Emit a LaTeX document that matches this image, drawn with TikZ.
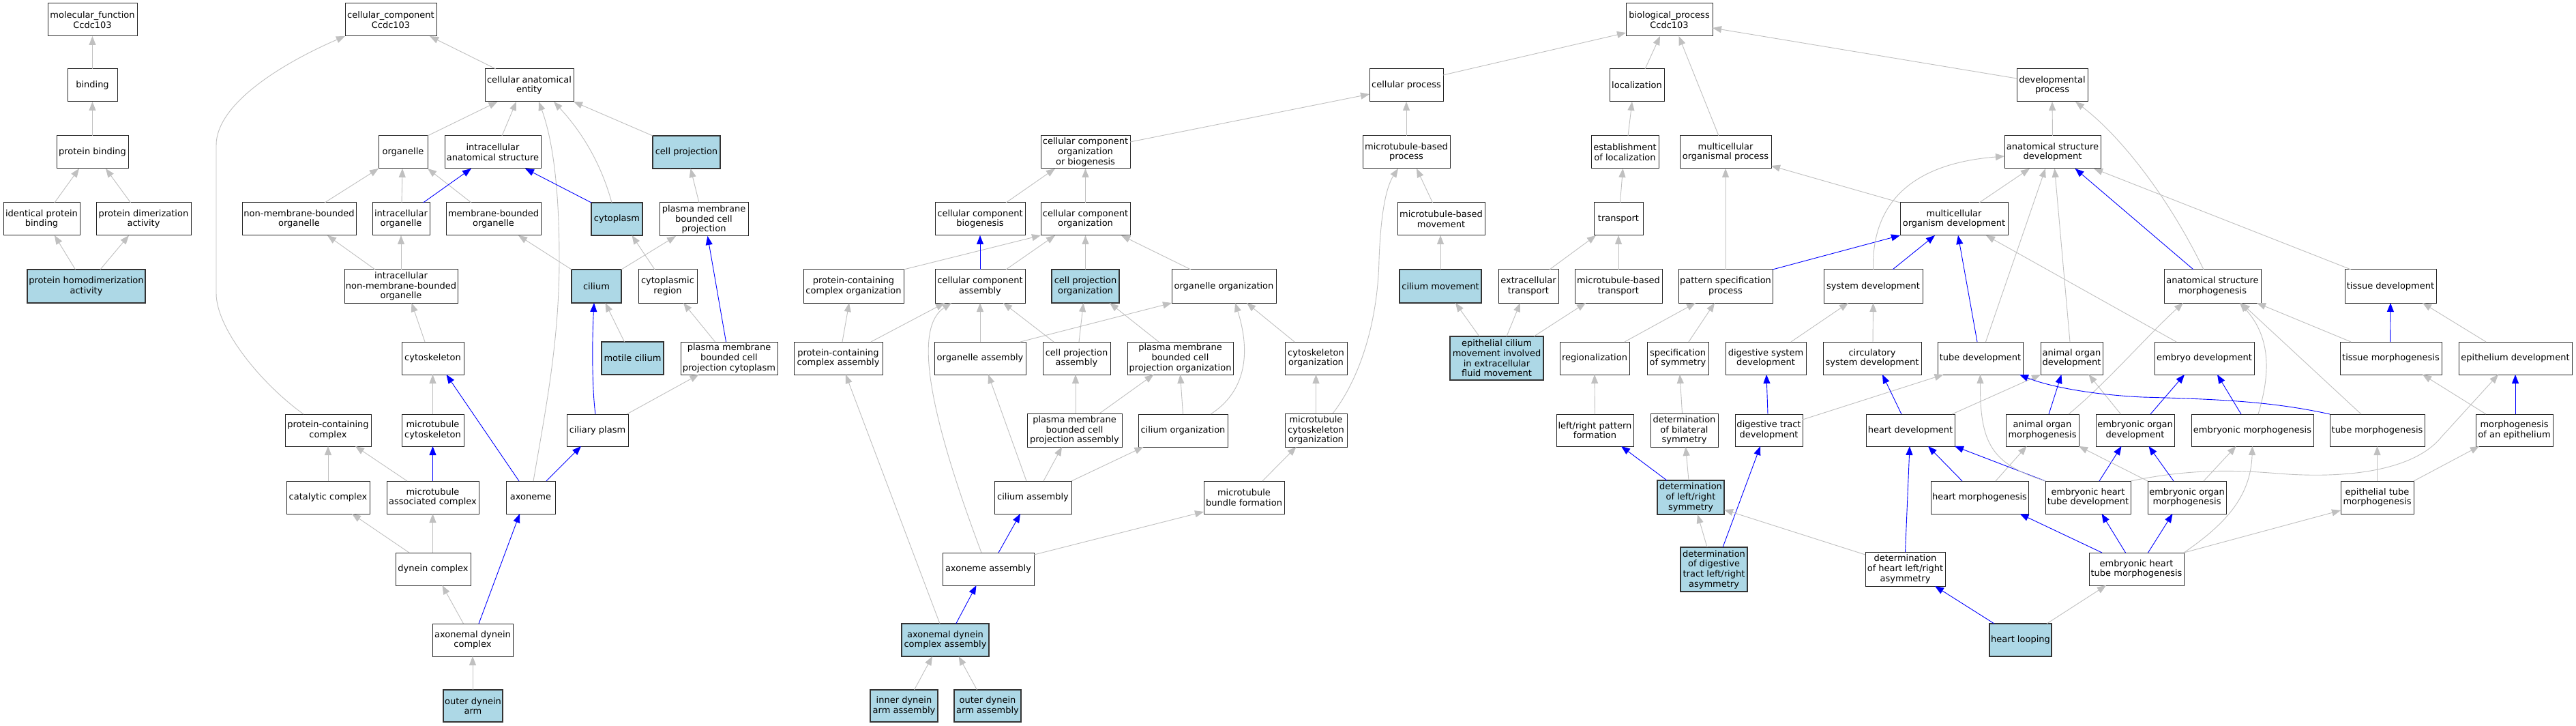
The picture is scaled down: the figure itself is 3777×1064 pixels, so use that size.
\documentclass[tikz,border=0pt]{standalone}
\usepackage{fontspec}
\setmainfont{DejaVu Sans}
\usetikzlibrary{arrows.meta}
\definecolor{egray}{HTML}{C0C0C0}
\definecolor{lblue}{HTML}{ADD8E6}
\definecolor{eblue}{HTML}{0000FF}
\tikzset{
 gobox/.style={draw=black!85, line width=1.0pt, fill=white, rectangle, inner sep=0pt, outer sep=0pt, align=center, font=\fontsize{13}{14.7}\selectfont},
 hl/.style={fill=lblue, line width=1.4pt, draw=black!80},
 isa/.style={draw=egray, line width=0.9pt, -{Triangle[length=13pt,width=10pt]}},
 po/.style={draw=eblue, line width=0.9pt, -{Triangle[length=13pt,width=10pt]}},
}
\newcommand\gon[7][]{%
 \pgfmathsetmacro\gw{#4-#3}\pgfmathsetmacro\gh{#6-#5}%
 \pgfmathsetmacro\gx{(#3+#4)/2}\pgfmathsetmacro\gy{(#5+#6)/2}%
 \node[gobox,#1,minimum width=\gw pt,minimum height=\gh pt] (#2) at (\gx,\gy) {#7};}
\newcommand\ed[5]{\draw[#1] ([xshift=#3pt]#2.north) -- ([xshift=#5pt]#4.south);}
\begin{document}
\begin{tikzpicture}[x=1pt,y=-1pt]
\useasboundingbox[fill=white] (0,0) rectangle (3777,1064);
% ---------- molecular function
\gon{mf}{70}{201}{5}{53}{molecular\_function\\Ccdc103}
\gon{binding}{99}{172}{101}{149}{binding}
\gon{pbind}{83}{188}{199}{247}{protein binding}
\gon{ipb}{5}{117}{297}{345}{identical protein\\binding}
\gon{pda}{141}{280}{297}{345}{protein dimerization\\activity}
\gon[hl]{phda}{40}{213}{395}{444}{protein homodimerization\\activity}
% ---------- cellular component
\gon{cc}{506}{640}{5}{53}{cellular\_component\\Ccdc103}
\gon{cae}{711}{841}{101}{149}{cellular anatomical\\entity}
\gon{organelle}{555}{627}{199}{247}{organelle}
\gon{ias}{652}{793}{199}{247}{intracellular\\anatomical structure}
\gon[hl]{cellproj}{957}{1056}{199}{247}{cell projection}
\gon{nmbo}{355}{522}{297}{345}{non-membrane-bounded\\organelle}
\gon{io}{546}{630}{297}{345}{intracellular\\organelle}
\gon{mbo}{654}{793}{297}{345}{membrane-bounded\\organelle}
\gon[hl]{cytoplasm}{867}{942}{297}{345}{cytoplasm}
\gon{pmbcp}{967}{1097}{297}{346}{plasma membrane\\bounded cell\\projection}
\gon{inmbo}{505}{671}{395}{444}{intracellular\\non-membrane-bounded\\organelle}
\gon[hl]{cilium}{838}{911}{395}{444}{cilium}
\gon{cytreg}{936}{1022}{395}{444}{cytoplasmic\\region}
\gon{cytoskeleton}{589}{680}{501}{549}{cytoskeleton}
\gon[hl]{motile}{882}{973}{501}{549}{motile cilium}
\gon{pmbcpc}{998}{1140}{501}{549}{plasma membrane\\bounded cell\\projection cytoplasm}
\gon{pcc}{418}{544}{607}{654}{protein-containing\\complex}
\gon{mtcyto}{589}{680}{607}{654}{microtubule\\cytoskeleton}
\gon{ciliaryplasm}{831}{921}{607}{654}{ciliary plasm}
\gon{catalytic}{420}{542}{705}{753}{catalytic complex}
\gon{mac}{567}{702}{705}{753}{microtubule\\associated complex}
\gon{axoneme}{742}{814}{705}{753}{axoneme}
\gon{dynein}{580}{690}{810}{858}{dynein complex}
\gon{adc}{634}{752}{914}{962}{axonemal dynein\\complex}
\gon[hl]{oda}{650}{737}{1011}{1058}{outer dynein\\arm}
% ---------- biological process, left part
\gon{pcco}{1178}{1325}{395}{444}{protein-containing\\complex organization}
\gon{ccb}{1371}{1503}{297}{345}{cellular component\\biogenesis}
\gon{cca}{1371}{1503}{395}{444}{cellular component\\assembly}
\gon{pcca}{1164}{1294}{501}{549}{protein-containing\\complex assembly}
\gon{oa}{1370}{1504}{501}{549}{organelle assembly}
\gon{ccoob}{1526}{1657}{199}{247}{cellular component\\organization\\or biogenesis}
\gon{cco}{1526}{1657}{297}{345}{cellular component\\organization}
\gon[hl]{cpo}{1542}{1641}{395}{444}{cell projection\\organization}
\gon{oo}{1718}{1871}{395}{444}{organelle organization}
\gon{cpa}{1529}{1628}{501}{549}{cell projection\\assembly}
\gon{pmbcpo}{1653}{1808}{501}{549}{plasma membrane\\bounded cell\\projection organization}
\gon{cytoorg}{1884}{1975}{501}{549}{cytoskeleton\\organization}
\gon{pmbcpa}{1506}{1645}{606}{655}{plasma membrane\\bounded cell\\projection assembly}
\gon{ciliumorg}{1669}{1800}{607}{655}{cilium organization}
\gon{mtco}{1884}{1975}{606}{655}{microtubule\\cytoskeleton\\organization}
\gon{ciliumasm}{1458}{1571}{705}{753}{cilium assembly}
\gon{mtbf}{1765}{1883}{705}{753}{microtubule\\bundle formation}
\gon{axasm}{1382}{1516}{810}{858}{axoneme assembly}
\gon[hl]{adca}{1322}{1450}{914}{962}{axonemal dynein\\complex assembly}
\gon[hl]{idaa}{1276}{1375}{1011}{1058}{inner dynein\\arm assembly}
\gon[hl]{odaa}{1399}{1497}{1011}{1058}{outer dynein\\arm assembly}
% ---------- biological process, middle/right
\gon{cellproc}{2008}{2116}{101}{149}{cellular process}
\gon{mbp}{1998}{2126}{199}{247}{microtubule-based\\process}
\gon{mbm}{2049}{2177}{297}{345}{microtubule-based\\movement}
\gon[hl]{ciliummov}{2052}{2172}{395}{444}{cilium movement}
\gon{exttr}{2197}{2285}{395}{444}{extracellular\\transport}
\gon[hl]{ecm}{2126}{2263}{493}{557}{epithelial cilium\\movement involved\\in extracellular\\fluid movement}
\gon{bp}{2384}{2511}{5}{53}{biological\_process\\Ccdc103}
\gon{loc}{2360}{2440}{101}{149}{localization}
\gon{devproc}{2957}{3061}{101}{149}{developmental\\process}
\gon{eol}{2333}{2432}{199}{247}{establishment\\of localization}
\gon{mop}{2463}{2597}{199}{247}{multicellular\\organismal process}
\gon{asd}{2939}{3080}{199}{247}{anatomical structure\\development}
\gon{transport}{2337}{2409}{297}{345}{transport}
\gon{mod}{2786}{2944}{297}{345}{multicellular\\organism development}
\gon{mbt}{2309}{2437}{395}{444}{microtubule-based\\transport}
\gon{psp}{2461}{2599}{395}{444}{pattern specification\\process}
\gon{sysdev}{2674}{2819}{395}{444}{system development}
\gon{asm}{3173}{3315}{395}{444}{anatomical structure\\morphogenesis}
\gon{tissuedev}{3438}{3572}{395}{444}{tissue development}
\gon{region}{2287}{2389}{501}{549}{regionalization}
\gon{sos}{2415}{2505}{501}{549}{specification\\of symmetry}
\gon{dsd}{2530}{2648}{501}{549}{digestive system\\development}
\gon{csd}{2673}{2817}{501}{549}{circulatory\\system development}
\gon{tubedev}{2841}{2966}{501}{549}{tube development}
\gon{aod}{2992}{3083}{501}{549}{animal organ\\development}
\gon{embdev}{3159}{3305}{501}{549}{embryo development}
\gon{tissuemorph}{3431}{3580}{501}{549}{tissue morphogenesis}
\gon{epidev}{3605}{3771}{501}{549}{epithelium development}
\gon{lrpf}{2282}{2395}{607}{654}{left/right pattern\\formation}
\gon{dbs}{2420}{2519}{606}{655}{determination\\of bilateral\\symmetry}
\gon{dtd}{2544}{2643}{607}{654}{digestive tract\\development}
\gon{heartdev}{2736}{2866}{607}{654}{heart development}
\gon{aom}{2941}{3048}{607}{654}{animal organ\\morphogenesis}
\gon{eod}{3073}{3188}{607}{654}{embryonic organ\\development}
\gon{embmorph}{3213}{3392}{607}{654}{embryonic morphogenesis}
\gon{tubemorph}{3416}{3555}{607}{654}{tube morphogenesis}
\gon{moe}{3630}{3743}{607}{654}{morphogenesis\\of an epithelium}
\gon[hl]{dlrs}{2430}{2528}{704}{754}{determination\\of left/right\\symmetry}
\gon{heartmorph}{2831}{2974}{705}{753}{heart morphogenesis}
\gon{ehtd}{2999}{3124}{705}{753}{embryonic heart\\tube development}
\gon{eom}{3149}{3264}{705}{753}{embryonic organ\\morphogenesis}
\gon{etm}{3432}{3539}{705}{753}{epithelial tube\\morphogenesis}
\gon[hl]{ddtlra}{2464}{2562}{802}{867}{determination\\of digestive\\tract left/right\\asymmetry}
\gon{dhlra}{2735}{2852}{809}{859}{determination\\of heart left/right\\asymmetry}
\gon{ehtm}{3063}{3202}{810}{858}{embryonic heart\\tube morphogenesis}
\gon[hl]{heartloop}{2917}{3008}{914}{962}{heart looping}
% ================= edges
% MF
\ed{isa}{binding}{0}{mf}{0}
\ed{isa}{pbind}{0}{binding}{0}
\ed{isa}{ipb}{19}{pbind}{-19.5}
\ed{isa}{pda}{-19}{pbind}{19.5}
\ed{isa}{phda}{-16}{ipb}{19}
\ed{isa}{phda}{20.5}{pda}{-21.5}
% CC
\ed{isa}{cae}{-49}{cc}{57}
\draw[isa] (organelle.north east) -- ([xshift=-46.5pt]cae.south);
\ed{isa}{ias}{13.5}{cae}{-19}
\draw[isa] ([xshift=-7.5pt]cytoplasm.north) .. controls (880,235) and (850,190) .. ([xshift=36pt]cae.south);
\draw[isa] ([xshift=4pt]axoneme.north) .. controls (800,600) and (820,500) .. (820,380) .. controls (820,250) and (805,190) .. ([xshift=14pt]cae.south);
\draw[isa] (cellproj.north west) -- (cae.south east);
\draw[isa] ([xshift=-36pt]pcc.north) .. controls (380,560) and (317,480) .. (317,430) -- (317,213) .. controls (317,150) and (420,90) .. (cc.south west);
\draw[isa] ([xshift=37.5pt]nmbo.north) -- (organelle.south west);
\ed{isa}{io}{1}{organelle}{-1}
\draw[isa] ([xshift=-32.5pt]mbo.north) -- (organelle.south east);
\ed{po}{io}{32.5}{ias}{-31.5}
\draw[po] (cytoplasm.north west) -- ([xshift=47.5pt]ias.south);
\ed{isa}{pmbcp}{-7}{cellproj}{6}
\ed{isa}{inmbo}{-38}{nmbo}{41.5}
\ed{isa}{inmbo}{0}{io}{0}
\ed{isa}{cytoskeleton}{-11.5}{inmbo}{15.5}
\draw[isa] (cilium.north west) -- ([xshift=36.5pt]mbo.south);
\draw[isa] (cilium.north east) -- ([xshift=-41pt]pmbcp.south);
\ed{isa}{cytreg}{-19}{cytoplasm}{22}
\ed{isa}{motile}{-12}{cilium}{13}
\ed{isa}{pmbcpc}{-20.5}{cytreg}{23}
\ed{po}{pmbcpc}{-4.5}{pmbcp}{5.5}
\draw[isa] ([xshift=-2pt]ciliaryplasm.north east) -- ([xshift=-44.5pt]pmbcpc.south);
\draw[po] ([xshift=-3pt]ciliaryplasm.north) .. controls (868,570) and (868,500) .. ([xshift=-3.5pt]cilium.south);
\ed{isa}{mtcyto}{0}{cytoskeleton}{0}
\ed{po}{axoneme}{-17}{cytoskeleton}{20}
\ed{po}{axoneme}{23}{ciliaryplasm}{-24}
\ed{isa}{catalytic}{0}{pcc}{0}
\ed{isa}{mac}{-37.5}{pcc}{40}
\ed{po}{mac}{0}{mtcyto}{0}
\ed{isa}{dynein}{-35}{catalytic}{35}
\ed{isa}{dynein}{-0.5}{mac}{0}
\ed{isa}{adc}{-13.5}{dynein}{13.5}
\ed{po}{adc}{9}{axoneme}{-16}
\ed{isa}{oda}{-0.5}{adc}{0}
% BP left
\draw[isa] ([yshift=-9pt]ccoob.north east) -- ([yshift=-13pt]cellproc.west);
\ed{isa}{mbp}{0}{cellproc}{0}
\ed{isa}{ccb}{38}{ccoob}{-44.5}
\ed{isa}{cco}{0}{ccoob}{0}
\draw[isa] (pcco.north east) -- (cco.south west);
\ed{isa}{cca}{38}{cco}{-44.5}
\ed{po}{cca}{0}{ccb}{0}
\ed{isa}{cpo}{0}{cco}{0}
\ed{isa}{oo}{-48.5}{cco}{52.5}
\ed{isa}{pcca}{6}{pcco}{-6.5}
\ed{isa}{pcca}{48}{cca}{-52}
\ed{isa}{oa}{0}{cca}{0}
\draw[isa] ([xshift=59pt]oa.north) -- (oo.south west);
\ed{isa}{cpa}{3.5}{cpo}{-3}
\ed{isa}{cpa}{-33.5}{cca}{34}
\ed{isa}{pmbcpo}{-31.5}{cpo}{35.5}
\ed{isa}{cytoorg}{-31.5}{oo}{33.5}
\ed{isa}{pmbcpa}{1.5}{cpa}{-1.5}
\ed{isa}{pmbcpa}{36.5}{pmbcpo}{-39}
\ed{isa}{ciliumorg}{0}{pmbcpo}{0}
\draw[isa] ([xshift=40.5pt]ciliumorg.north) .. controls (1825,575) and (1835,520) .. ([xshift=16.5pt]oo.south);
\ed{isa}{mtco}{0}{cytoorg}{0}
\draw[isa] ([xshift=24.5pt]mtco.north) .. controls (1990,560) and (2020,480) .. (2022,380) .. controls (2025,300) and (2035,270) .. ([xshift=-12pt]mbp.south);
\ed{isa}{ciliumasm}{-9.5}{oa}{12}
\ed{isa}{ciliumasm}{15.5}{pmbcpa}{-18.5}
\draw[isa] (ciliumasm.north east) -- ([xshift=-58pt]ciliumorg.south);
\ed{isa}{mtbf}{27}{mtco}{-29}
\ed{po}{axasm}{15}{ciliumasm}{-18.5}
\draw[isa] ([yshift=-3pt]axasm.north east) -- ([yshift=3pt]mtbf.south west);
\draw[isa] ([xshift=-10pt]axasm.north) .. controls (1360,600) and (1340,480) .. ([xshift=-42pt]cca.south);
\ed{po}{adca}{15.7}{axasm}{-17.5}
\ed{isa}{adca}{-8}{pcca}{11}
\ed{isa}{idaa}{15}{adca}{-19}
\ed{isa}{odaa}{-15.5}{adca}{19.7}
% BP middle / right
\draw[isa] ([yshift=-9pt]cellproc.north east) -- ([yshift=5pt]bp.south west);
\ed{isa}{loc}{12}{bp}{-13.5}
\ed{isa}{mop}{-10}{bp}{14}
\draw[isa] ([yshift=10pt]devproc.west) -- ([yshift=-12pt]bp.east);
\ed{isa}{mbm}{-12.5}{mbp}{15}
\ed{isa}{eol}{4.5}{loc}{-7}
\ed{isa}{asd}{0}{devproc}{0}
\ed{isa}{transport}{2.4}{eol}{-3}
\draw[isa] (mod.north west) -- ([yshift=4pt]mop.south east);
\ed{isa}{mod}{37}{asd}{-33.5}
\ed{isa}{ciliummov}{0}{mbm}{-1}
\ed{isa}{exttr}{31}{transport}{-33}
\ed{isa}{mbt}{0}{transport}{0}
\ed{isa}{psp}{0}{mop}{0}
\draw[po] (psp.north east) -- (mod.south west);
\ed{po}{sysdev}{28.5}{mod}{-28}
\draw[isa] (sysdev.north) .. controls (2744,300) and (2800,240) .. ([yshift=-6pt]asd.west);
\ed{isa}{ecm}{-25.5}{ciliummov}{22}
\ed{isa}{ecm}{14.5}{exttr}{-12}
\ed{isa}{ecm}{54.5}{mbt}{-48}
\ed{isa}{region}{44}{psp}{-44}
\ed{isa}{sos}{16}{psp}{-16}
\ed{isa}{dsd}{37}{sysdev}{-36.5}
\ed{isa}{csd}{1}{sysdev}{0}
\ed{po}{tubedev}{-4.5}{mod}{6}
\ed{isa}{tubedev}{8}{asd}{-10.5}
\ed{isa}{aod}{-2.5}{asd}{3}
\ed{isa}{embdev}{-41}{mod}{47}
\ed{po}{asm}{-28}{asd}{33}
\draw[isa] ([xshift=-13pt]asm.north) .. controls (3180,290) and (3110,200) .. ([xshift=34pt]devproc.south);
\ed{isa}{tissuedev}{-58}{asd}{60.5}
\ed{po}{tissuemorph}{-1}{tissuedev}{0}
\ed{isa}{tissuemorph}{-58.5}{asm}{65}
\ed{isa}{epidev}{-43}{tissuedev}{47}
% row 6
\ed{isa}{lrpf}{0}{region}{0}
\ed{isa}{dbs}{-3}{sos}{3}
\ed{po}{dtd}{-1.5}{dsd}{1}
\draw[isa] ([yshift=-8pt]dtd.north east) -- ([xshift=-54pt]tubedev.south);
\ed{po}{heartdev}{-13}{csd}{15}
\draw[isa] ([xshift=61pt]heartdev.north) -- (aod.south west);
\ed{po}{aom}{9.5}{aod}{-15}
\draw[isa] ([xshift=38.5pt]aom.north) .. controls (3090,560) and (3150,490) .. ([xshift=-43pt]asm.south);
\ed{po}{eod}{22.5}{embdev}{-29}
\ed{isa}{eod}{-21}{aod}{25}
\ed{po}{embmorph}{-16.5}{embdev}{19}
\draw[isa] ([xshift=8.5pt]embmorph.north) .. controls (3325,560) and (3335,500) .. ([xshift=40pt]asm.south);
\draw[isa] ([xshift=-23.5pt]tubemorph.north) -- ([xshift=42pt]asm.south);
\draw[po] (tubemorph.north west) .. controls (3330,588) and (3250,585) .. (3141,582) .. controls (3060,578) and (3000,565) .. ([xshift=57.5pt]tubedev.south);
\ed{po}{moe}{1.5}{epidev}{0}
\ed{isa}{moe}{-41.5}{tissuemorph}{46.5}
% row 7
\ed{po}{dlrs}{-35}{lrpf}{38.5}
\ed{isa}{dlrs}{-3}{dbs}{2}
\ed{po}{heartmorph}{-25.5}{heartdev}{26}
\ed{isa}{heartmorph}{23.5}{aom}{-23}
\draw[po] (ehtd.north west) -- (heartdev.south east);
\draw[isa] (ehtd.north west) .. controls (2920,680) and (2903,650) .. (tubedev.south);
\ed{po}{ehtd}{16.5}{eod}{-20}
\draw[isa] (ehtd.north east) .. controls (3220,685) and (3290,690) .. (3341,694) .. controls (3440,702) and (3540,690) .. (3580,640) -- ([xshift=-25pt]epidev.south);
\ed{po}{eom}{-19.5}{eod}{20}
\ed{isa}{eom}{24.5}{embmorph}{-24}
\draw[isa] (eom.north west) -- (aom.south east);
\ed{isa}{etm}{0}{tubemorph}{0}
\draw[isa] (etm.north east) -- ([xshift=-51.5pt]moe.south);
% row 8
\ed{isa}{ddtlra}{-10}{dlrs}{10}
\ed{po}{ddtlra}{13}{dtd}{-12.5}
\draw[isa] ([yshift=-4pt]dhlra.north west) -- ([yshift=7pt]dlrs.south east);
\ed{po}{dhlra}{0}{heartdev}{-1}
\ed{po}{ehtm}{-50.5}{heartmorph}{59}
\ed{po}{ehtm}{-16}{ehtd}{20}
\ed{po}{ehtm}{17}{eom}{-21}
\draw[isa] (ehtm.north east) .. controls (3260,770) and (3300,730) .. (embmorph.south);
\draw[isa] (ehtm.north east) -- ([yshift=5pt]etm.south west);
% row 9
\ed{po}{heartloop}{-38.5}{dhlra}{43.5}
\ed{isa}{heartloop}{38.5}{ehtm}{-44.5}
\end{tikzpicture}
\end{document}
